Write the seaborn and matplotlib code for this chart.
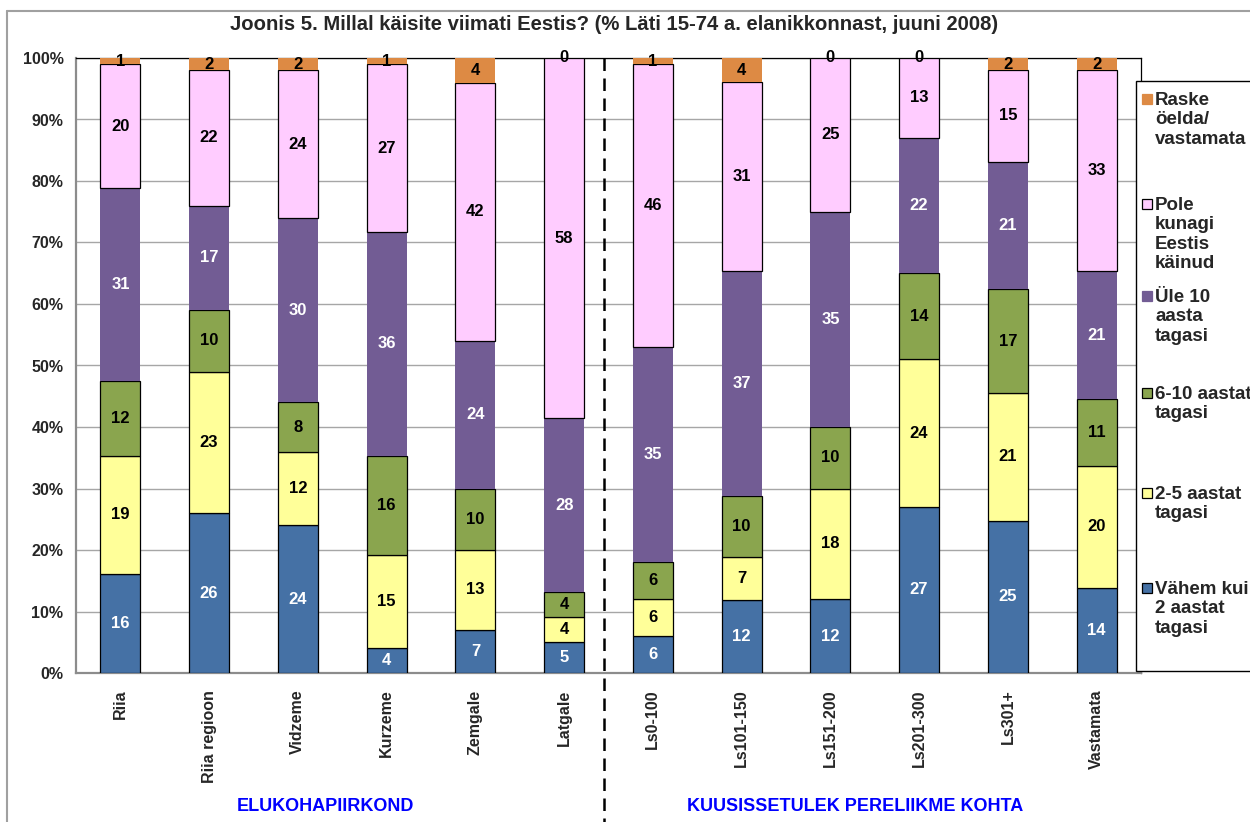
import numpy as np
import matplotlib
matplotlib.use("Agg")
import matplotlib.pyplot as plt
import seaborn as sns
from matplotlib.patches import Rectangle
from matplotlib.lines import Line2D
from matplotlib.transforms import blended_transform_factory

categories = ["Riia", "Riia regioon", "Vidzeme", "Kurzeme", "Zemgale", "Latgale",
              "Ls0-100", "Ls101-150", "Ls151-200", "Ls201-300", "Ls301+", "Vastamata"]
vahem_kui_2 = [16, 26, 24, 4, 7, 5, 6, 12, 12, 27, 25, 14]
aastat_2_5 = [19, 23, 12, 15, 13, 4, 6, 7, 18, 24, 21, 20]
aastat_6_10 = [12, 10, 8, 16, 10, 4, 6, 10, 10, 14, 17, 11]
yle_10 = [31, 17, 30, 36, 24, 28, 35, 37, 35, 22, 21, 21]
pole_kunagi = [20, 22, 24, 27, 42, 58, 46, 31, 25, 13, 15, 33]
raske_oelda = [1, 2, 2, 1, 4, 0, 1, 4, 0, 0, 2, 2]

series = [
    ("Vähem kui\n2 aastat\ntagasi", vahem_kui_2, "#4571A5", "black", "white"),
    ("2-5 aastat\ntagasi", aastat_2_5, "#FFFF99", "black", "black"),
    ("6-10 aastat\ntagasi", aastat_6_10, "#8AA54E", "black", "black"),
    ("Üle 10\naasta\ntagasi", yle_10, "#725C94", "none", "white"),
    ("Pole\nkunagi\nEestis\nkäinud", pole_kunagi, "#FFCCFF", "black", "black"),
    ("Raske\nöelda/\nvastamata", raske_oelda, "#DD8A44", "none", "black"),
]

sns.set_style("white")
plt.rcParams["font.family"] = ["Liberation Sans", "DejaVu Sans"]
plt.rcParams["font.weight"] = "bold"

W, H = 1250, 822
fig = plt.figure(figsize=(12.5, 8.22), dpi=100)
ax = fig.add_axes([76 / W, 1 - 673 / H, (1141 - 76) / W, (673 - 58) / H])

totals = np.sum([s[1] for s in series], axis=0)
bottom = np.zeros(len(categories))
for label, vals, color, edge, tcolor in series:
    pct = np.array(vals) / totals * 100
    sns.barplot(x=categories, y=pct, order=categories, bottom=bottom, color=color,
                saturation=1, width=0.45, edgecolor=edge, linewidth=0.9,
                errorbar=None, ax=ax, zorder=3)
    for i, (v, p, b) in enumerate(zip(vals, pct, bottom)):
        ax.text(i, b + p / 2, str(v), ha="center", va="center", color=tcolor,
                fontsize=12, fontweight="bold", zorder=5)
    bottom = bottom + pct

ax.set_xlim(-0.5, len(categories) - 0.5)
ax.set_ylim(0, 100)
ax.set_yticks(np.arange(0, 101, 10))
ax.set_yticklabels([f"{t}%" for t in range(0, 101, 10)])
ax.set_xlabel("")
ax.set_ylabel("")
ax.set_xticks(range(len(categories)))
ax.set_xticklabels(categories, rotation=90, fontsize=11.5, fontweight="bold")
ax.set_xticks(np.arange(-0.5, len(categories)), minor=True)
ax.tick_params(axis="x", which="major", length=0, pad=12)
ax.tick_params(axis="x", which="minor", length=5, color="#8C8C8C", width=1.2, direction="out")
ax.tick_params(axis="y", length=5, color="#8C8C8C", width=1.2, direction="out",
               labelsize=11.5, pad=4)
for lbl in ax.get_yticklabels():
    lbl.set_fontweight("bold")
ax.grid(axis="y", color="#A6A6A6", lw=1)
ax.set_axisbelow(True)
for side in ["left", "bottom"]:
    ax.spines[side].set_color("#8C8C8C")
    ax.spines[side].set_linewidth(1.6)
for side in ["top", "right"]:
    ax.spines[side].set_color("black")
    ax.spines[side].set_linewidth(0.9)

# dashed group divider
tr = blended_transform_factory(ax.transData, ax.transAxes)
ax.plot([5.45, 5.45], [1.0, -0.25], transform=tr, color="black", lw=1.8,
        ls=(0, (5, 3)), clip_on=False, zorder=6)

# title and group labels
fig.text(614 / W, 1 - 25 / H,
         "Joonis 5. Millal käisite viimati Eestis? (% Läti 15-74 a. elanikkonnast, juuni 2008)",
         ha="center", va="center", fontsize=14.6, fontweight="bold")
fig.text(325 / W, 1 - 806 / H, "ELUKOHAPIIRKOND", ha="center", va="center",
         fontsize=13, fontweight="bold", color="#0000FF")
fig.text(855 / W, 1 - 806 / H, "KUUSISSETULEK PERELIIKME KOHTA", ha="center", va="center",
         fontsize=13, fontweight="bold", color="#0000FF")

# outer chart frame
fig.add_artist(Line2D([7 / W, 7 / W], [0, 1 - 11 / H], color="#A0A0A0", lw=1.5))
fig.add_artist(Line2D([7 / W, 1], [1 - 11 / H, 1 - 11 / H], color="#A0A0A0", lw=1.5))

# legend
fig.add_artist(Rectangle((1136 / W, 1 - 671 / H), 0.2, (671 - 81) / H,
                         transform=fig.transFigure, facecolor="white",
                         edgecolor="black", lw=1, zorder=7))
marker_y = [588, 493, 393, 296, 204, 99]
for (label, vals, color, edge, tcolor), my in zip(series, marker_y):
    fig.add_artist(Rectangle((1142 / W, 1 - (my + 5) / H), 10 / W, 10 / H,
                             transform=fig.transFigure, facecolor=color,
                             edgecolor=edge if edge != "none" else color, lw=0.9, zorder=8))
    fig.text(1155 / W, 1 - (my - 7) / H, label, ha="left", va="top", fontsize=13.5,
             fontweight="bold", linespacing=1.18, zorder=8)

fig.savefig("out.png", dpi=100)
